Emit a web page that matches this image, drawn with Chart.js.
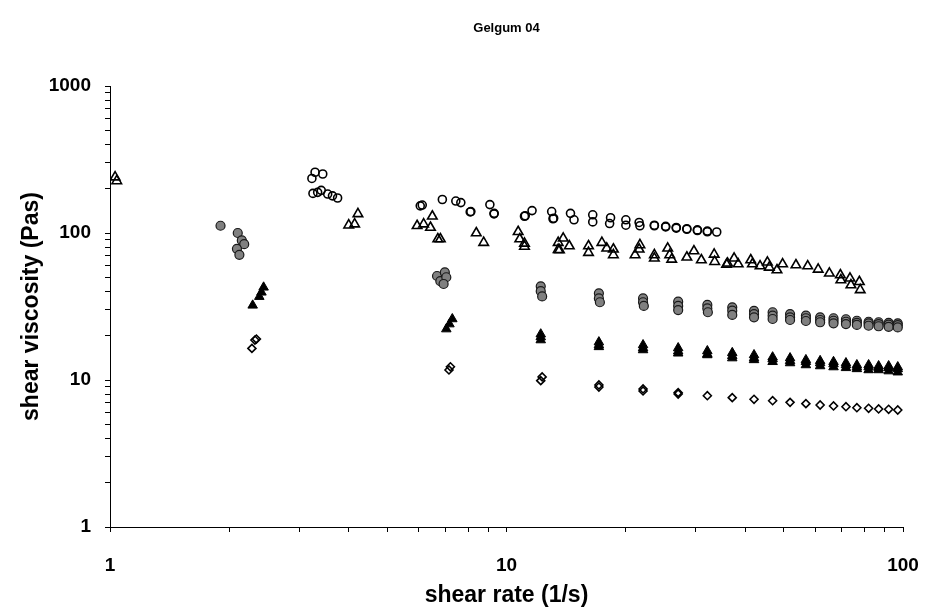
<!DOCTYPE html>
<html>
<head>
<meta charset="utf-8">
<title>Gelgum 04</title>
<script src="https://cdn.jsdelivr.net/npm/chart.js@4.4.0/dist/chart.umd.min.js"></script>
<style>
  html, body { margin: 0; padding: 0; background: #fff; }
  #wrap { width: 928px; height: 616px; }
</style>
</head>
<body>
<div id="wrap"><canvas id="viscChart" width="928" height="616"></canvas></div>
<script>
    // Flow curve data: shear rate (1/s) and shear viscosity (Pas) per run
    const rateOpenCircle = [3.23, 3.29, 3.44, 3.25, 3.34, 3.41, 3.54, 3.64, 3.75,
      6.06, 6.13, 6.89, 7.45, 7.67, 8.13, 8.1, 9.08, 9.31, 9.3, 11.1, 11.15, 11.6, 13.0, 13.1, 13.15,
      14.5, 14.8, 16.5, 16.5, 18.3, 18.2, 20.0, 20.0, 21.6, 21.7, 23.6, 23.6, 25.2, 25.2, 26.8, 26.8,
      28.5, 28.5, 30.3, 30.3, 32.1, 32.1, 33.9];
    const viscOpenCircle = [235, 259, 252, 186, 189, 195, 184, 179, 173,
      153, 155, 169, 165, 161, 140, 139, 156, 136, 135, 130, 131, 142, 140, 125, 126,
      136, 123, 133, 119, 127, 116, 123, 113, 118, 112, 112, 113, 110, 111, 108, 109,
      106, 107, 104, 105, 102, 103, 101.6];

    const rateOpenTri = [1.03, 1.04,
      4.0, 4.14, 4.22,
      5.95, 6.18, 6.43, 6.50, 6.71, 6.81,
      8.39, 8.76,
      10.7, 10.8, 11.1, 11.1,
      13.5, 13.5, 13.9, 14.4, 13.6,
      16.1, 16.1, 17.4, 17.9, 18.6, 18.6,
      21.7, 21.6, 21.1, 23.6, 23.6, 25.5, 25.8, 26.1, 28.5, 29.7, 31.0,
      33.4, 33.5, 35.9, 36.1, 37.5, 38.4,
      41.3, 41.7, 43.6, 45.5, 46.0, 48.1, 49.7, 53.7, 57.5, 61.1, 65.2,
      69.5, 69.7, 73.5, 73.9, 77.6, 78.0];
    const viscOpenTri = [240, 226,
      113, 115, 135,
      112, 115, 109, 130, 91, 91,
      100, 86,
      102, 91, 85, 81,
      86, 77, 92, 81.6, 76.6,
      81.6, 73.5, 86, 78.7, 77.5, 70.9,
      82.9, 77.5, 70.9, 70.9, 67.3, 78.7, 70.9, 66.2, 68.4, 75.4, 65.5,
      71.6, 63.8, 61.2, 62.2, 67.3, 61.5,
      65.5, 61.5, 59.6, 63.2, 58.4, 56.0, 61.5, 60.6, 59.6, 56.6, 53.2,
      51.8, 47.9, 49.2, 44.3, 46.6, 41.0];

    const rateGrayCircle = [1.90, 2.10, 2.15, 2.18, 2.09, 2.12,
      6.68, 6.81, 6.99, 7.05, 6.94,
      12.2, 12.2, 12.3,
      17.1, 17.1, 17.2,
      22.1, 22.1, 22.2,
      27.1, 27.1, 27.1,
      32.1, 32.1, 32.2,
      37.1, 37.1, 37.1,
      42.1, 42.1, 42.1,
      46.9, 46.9, 46.9,
      51.9, 51.9, 51.9,
      56.9, 56.9, 56.9,
      61.8, 61.8, 61.8,
      66.8, 66.8, 66.8,
      71.8, 71.8, 71.8,
      76.5, 76.5, 76.5,
      81.9, 81.9, 81.9,
      86.8, 86.8, 86.8,
      92.0, 92.0, 92.0,
      97.0, 97.0, 97.0];
    const viscGrayCircle = [112, 100, 89, 84, 78, 71,
      51, 47, 54, 50, 45,
      43.4, 40.2, 37.0,
      38.9, 35.9, 33.8,
      35.9, 33.8, 31.9,
      34.1, 31.9, 29.9,
      32.4, 30.7, 28.9,
      31.2, 29.6, 27.7,
      29.5, 28.1, 26.7,
      28.9, 27.4, 26.0,
      28.1, 26.7, 25.6,
      27.4, 26.3, 25.2,
      26.7, 25.6, 24.7,
      26.3, 25.3, 24.3,
      25.9, 24.9, 24.0,
      25.3, 24.5, 23.7,
      24.9, 24.3, 23.4,
      24.7, 24.0, 23.2,
      24.5, 23.8, 23.0,
      24.3, 23.6, 22.8];

    const rateBlackTri = [2.29, 2.38, 2.41, 2.44,
      7.05, 7.18, 7.30,
      12.2, 12.2, 12.2,
      17.1, 17.1, 17.1,
      22.1, 22.1, 22.1,
      27.1, 27.1, 27.1,
      32.1, 32.1, 32.1,
      37.1, 37.1, 37.1,
      42.1, 42.1, 42.1,
      46.9, 46.9, 46.9,
      51.9, 51.9, 51.9,
      56.9, 56.9, 56.9,
      61.8, 61.8, 61.8,
      66.8, 66.8, 66.8,
      71.8, 71.8, 71.8,
      76.5, 76.5, 76.5,
      81.9, 81.9, 81.9,
      86.8, 86.8, 86.8,
      92.0, 92.0, 92.0,
      97.0, 97.0, 97.0];
    const viscBlackTri = [32.2, 36.9, 39.5, 42.7,
      22.2, 24.0, 26.0,
      20.5, 19.6, 18.7,
      18.1, 17.3, 16.8,
      17.3, 16.5, 16.0,
      16.5, 15.7, 15.2,
      15.75, 15.0, 14.8,
      15.3, 14.6, 14.1,
      14.8, 14.1, 13.7,
      14.3, 13.9, 13.3,
      14.1, 13.5, 13.05,
      13.7, 13.3, 12.65,
      13.5, 13.05, 12.45,
      13.3, 12.85, 12.25,
      13.05, 12.65, 12.1,
      12.65, 12.25, 11.9,
      12.65, 12.25, 11.7,
      12.45, 12.1, 11.7,
      12.45, 12.1, 11.5,
      12.25, 11.9, 11.3];

    const rateDiamond = [2.34, 2.32, 2.28,
      7.22, 7.16,
      12.3, 12.2,
      17.1, 17.1,
      22.1, 22.1,
      27.1, 27.1,
      32.1, 37.1, 42.1, 46.9, 51.9, 56.9, 61.8, 66.8, 71.8, 76.5, 81.9, 86.8, 92.0, 97.0];
    const viscDiamond = [19.0, 18.7, 16.4,
      12.3, 11.7,
      10.5, 9.9,
      9.25, 8.96,
      8.69, 8.42,
      8.20, 8.03,
      7.82, 7.58, 7.39, 7.23, 7.05, 6.90, 6.76, 6.66, 6.58, 6.48, 6.42, 6.35, 6.32, 6.25];

    // Axis ticks: labelled decades plus unlabelled 2..9 marks
    const xLabelled = [1, 10, 100];
    const yLabelled = [1, 10, 100, 1000];

    function decadeTicks(decades) {
      const out = [];
      for (let i = 0; i < decades.length - 1; i++) {
        for (let m = 1; m < 10; m++) out.push(decades[i] * m);
      }
      out.push(decades[decades.length - 1]);
      return out;
    }

    function points(xs, ys) {
      return xs.map((x, i) => ({ x: x, y: ys[i] }));
    }

    const fontFamily = 'Arial, "Liberation Sans", sans-serif';
    const tickFont = { family: fontFamily, size: 19, weight: 'bold' };
    const axisTitleFont = { family: fontFamily, size: 23, weight: 'bold' };

    const ctx = document.getElementById('viscChart').getContext('2d');
    const chart = new Chart(ctx, {
      type: 'scatter',
      data: {
        datasets: [
          {
            label: 'open circles',
            data: points(rateOpenCircle, viscOpenCircle),
            pointStyle: 'circle',
            pointRadius: 4,
            backgroundColor: 'rgba(255,255,255,0)',
            borderColor: '#000',
            borderWidth: 1.6
          },
          {
            label: 'open triangles',
            data: points(rateOpenTri, viscOpenTri),
            pointStyle: 'triangle',
            pointRadius: 5.5,
            backgroundColor: 'rgba(255,255,255,0)',
            borderColor: '#000',
            borderWidth: 1.6
          },
          {
            label: 'gray circles',
            data: points(rateGrayCircle, viscGrayCircle),
            pointStyle: 'circle',
            pointRadius: 4.5,
            backgroundColor: '#808080',
            borderColor: '#1a1a1a',
            borderWidth: 1.2
          },
          {
            label: 'black triangles',
            data: points(rateBlackTri, viscBlackTri),
            pointStyle: 'triangle',
            pointRadius: 5.5,
            backgroundColor: '#000',
            borderColor: '#000',
            borderWidth: 1
          },
          {
            label: 'diamonds',
            data: points(rateDiamond, viscDiamond),
            pointStyle: 'rectRot',
            pointRadius: 4,
            backgroundColor: 'rgba(255,255,255,0)',
            borderColor: '#000',
            borderWidth: 1.6
          }
        ]
      },
      options: {
        responsive: false,
        animation: false,
        events: [],
        layout: { padding: { left: 0, right: 25, top: 0, bottom: 0 } },
        plugins: {
          legend: { display: false },
          tooltip: { enabled: false },
          title: {
            display: true,
            text: 'Gelgum 04',
            fullSize: false,
            color: '#000',
            font: { family: fontFamily, size: 13, weight: 'bold' },
            padding: { top: 21, bottom: 49.4 }
          }
        },
        scales: {
          x: {
            type: 'logarithmic',
            position: 'bottom',
            min: 1,
            max: 100,
            afterBuildTicks: scale => {
              scale.ticks = decadeTicks(xLabelled).map(v => ({ value: v }));
            },
            afterFit: scale => {
              scale.height = 89;
              // end labels may hang past the plot edges
              scale.paddingLeft = 0;
              scale.paddingRight = 0;
            },
            border: { display: true, color: '#000', width: 1 },
            grid: { drawOnChartArea: false, drawTicks: true, tickLength: 5, color: '#000' },
            ticks: {
              autoSkip: false,
              maxRotation: 0,
              color: '#000',
              font: tickFont,
              padding: 22,
              callback: value => xLabelled.includes(value) ? String(value) : ''
            },
            title: {
              display: true,
              text: 'shear rate (1/s)',
              color: '#000',
              font: axisTitleFont,
              padding: { top: 0, bottom: 7 }
            }
          },
          y: {
            type: 'logarithmic',
            position: 'left',
            min: 1,
            max: 1000,
            afterBuildTicks: scale => {
              scale.ticks = decadeTicks(yLabelled).map(v => ({ value: v }));
            },
            afterFit: scale => { scale.width = 110; },
            border: { display: true, color: '#000', width: 1 },
            grid: { drawOnChartArea: false, drawTicks: true, tickLength: 5, color: '#000' },
            ticks: {
              autoSkip: false,
              color: '#000',
              font: tickFont,
              padding: 14,
              callback: value => yLabelled.includes(value) ? String(value) : ''
            },
            title: {
              display: true,
              text: 'shear viscosity (Pas)',
              color: '#000',
              font: axisTitleFont,
              padding: { top: 18, bottom: 0 }
            }
          }
        }
      }
    });
</script>
</body>
</html>
